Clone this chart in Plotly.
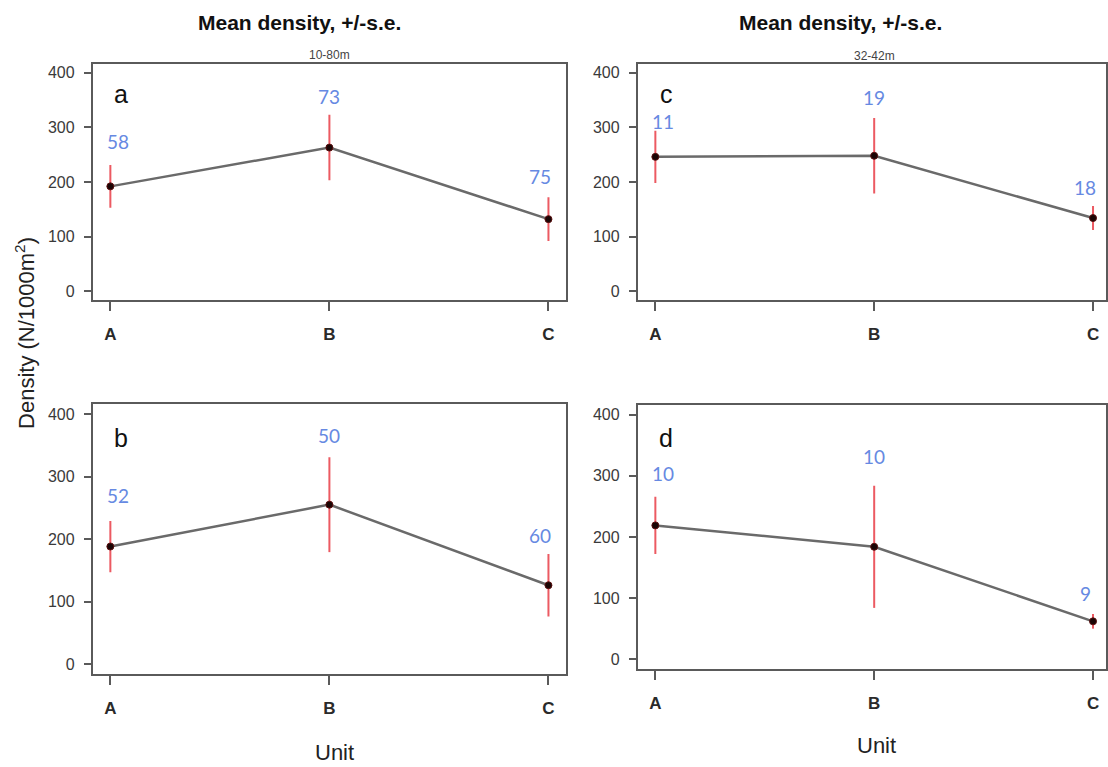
import plotly.graph_objects as go

units = ["A", "B", "C"]
unit_pos = [1, 2, 3]

# panel a: 10-80m, top-left
mean_a = [192, 263, 132]
se_a = [39, 60, 40]
n_a = [58, 73, 75]
# panel b: bottom-left
mean_b = [188, 255, 126]
se_b = [41, 76, 50]
n_b = [52, 50, 60]
# panel c: 32-42m, top-right
mean_c = [246, 248, 134]
se_c = [48, 69, 22]
n_c = [11, 19, 18]
# panel d: bottom-right
mean_d = [219, 184, 62]
se_d = [47, 100, 12]
n_d = [10, 10, 9]

y_ticks = [0, 100, 200, 300, 400]

W, H = 1108, 767
LINE = "#6a6a6a"
RED = "#ec5a62"
BLUE = "#6689e2"
NARROW = "Liberation Sans Narrow, Arial Narrow, Liberation Sans, Arial"
TICKFONT = dict(family=NARROW, size=16, color="#3a3a3a")

fig = go.Figure()

# (letter, data..., axes, label pixel offsets above the error bar)
panels = [
    ("a", mean_a, se_a, n_a, "x", "y", [24, 18, 21]),
    ("c", mean_c, se_c, n_c, "x2", "y2", [9, 21, 19]),
    ("b", mean_b, se_b, n_b, "x3", "y3", [25, 22, 19]),
    ("d", mean_d, se_d, n_d, "x4", "y4", [23, 29, 21]),
]

annotations = []
for letter, mean, se, n, xa, ya, yshifts in panels:
    fig.add_trace(go.Scatter(
        x=unit_pos, y=mean, xaxis=xa, yaxis=ya, mode="lines+markers",
        line=dict(color=LINE, width=2.5),
        marker=dict(color="#1a0505", size=7, line=dict(color="#5a1010", width=1)),
        error_y=dict(type="data", array=se, symmetric=True, color=RED, thickness=2, width=0),
        showlegend=False, hoverinfo="skip",
    ))
    xshifts = [8, 0, -8]
    for xi, m, s, cnt, sh, ys in zip(unit_pos, mean, se, n, xshifts, yshifts):
        annotations.append(dict(
            x=xi, y=m + s, xref=xa, yref=ya, text=str(cnt), showarrow=False,
            xshift=sh, yshift=ys, yanchor="middle",
            font=dict(family="Lato, Noto Sans, sans-serif", size=19, color=BLUE),
        ))
    annotations.append(dict(
        x=1.05, y=362, xref=xa, yref=ya, text=letter, showarrow=False,
        xanchor="center", yanchor="middle",
        font=dict(family="Liberation Sans, Arial", size=25, color="#111111"),
    ))

def px_x(p):
    return p / W

def px_y(p):
    return 1 - p / H

xcommon = dict(
    tickvals=unit_pos, ticktext=["<b>%s</b>" % u for u in units], showline=True, mirror=True,
    linecolor="#5a5a5a", linewidth=2, ticks="outside", ticklen=9, tickwidth=1.5,
    tickcolor="#5a5a5a", showgrid=False, zeroline=False,
    tickfont=dict(family=NARROW, size=17, color="#2a2a2a"),
    ticklabelstandoff=9,
)
ycommon = dict(
    tickvals=y_ticks, range=[-16, 416], showline=True, mirror=True,
    linecolor="#5a5a5a", linewidth=2, ticks="outside", ticklen=7, tickwidth=1.5,
    tickcolor="#5a5a5a", showgrid=False, zeroline=False, tickfont=TICKFONT,
    ticklabelstandoff=6,
)

left_dom = [px_x(93), px_x(567)]
right_dom = [px_x(639), 1.0]
right_rng = [0.92, 3.0 + 13 / 219.2]

fig.update_layout(
    width=W, height=H, margin=dict(l=0, r=0, t=0, b=0),
    paper_bgcolor="white", plot_bgcolor="white",
    xaxis=dict(domain=left_dom, range=[0.92, 3.08], anchor="y", **xcommon),
    yaxis=dict(domain=[px_y(300), px_y(64)], anchor="x", **ycommon),
    xaxis2=dict(domain=right_dom, range=right_rng, anchor="y2", **xcommon),
    yaxis2=dict(domain=[px_y(300), px_y(64)], anchor="x2", **ycommon),
    xaxis3=dict(domain=left_dom, range=[0.92, 3.08], anchor="y3", **xcommon),
    yaxis3=dict(domain=[px_y(674), px_y(404)], anchor="x3", **ycommon),
    xaxis4=dict(domain=right_dom, range=right_rng, anchor="y4", **xcommon),
    yaxis4=dict(domain=[px_y(669), px_y(405)], anchor="x4", **ycommon),
)

title_font = dict(family="Liberation Sans, Arial", size=21, color="#111111")
sub_font = dict(family=NARROW, size=12, color="#444444")
axis_title_font = dict(family="Liberation Sans, Arial", size=22, color="#222222")

annotations += [
    dict(x=px_x(300), y=px_y(23), xref="paper", yref="paper", text="<b>Mean density, +/-s.e.</b>",
         showarrow=False, font=title_font, xanchor="center", yanchor="middle"),
    dict(x=px_x(842), y=px_y(23), xref="paper", yref="paper", text="<b>Mean density, +/-s.e.</b>",
         showarrow=False, font=title_font, xanchor="center", yanchor="middle"),
    dict(x=px_x(330), y=px_y(55), xref="paper", yref="paper", text="10-80m",
         showarrow=False, font=sub_font, xanchor="center", yanchor="middle"),
    dict(x=px_x(876), y=px_y(56), xref="paper", yref="paper", text="32-42m",
         showarrow=False, font=sub_font, xanchor="center", yanchor="middle"),
    dict(x=px_x(25), y=px_y(333), xref="paper", yref="paper", text="Density (N/1000m<sup>2</sup>)",
         showarrow=False, font=axis_title_font, textangle=-90, xanchor="center", yanchor="middle"),
    dict(x=px_x(335), y=px_y(752), xref="paper", yref="paper", text="Unit",
         showarrow=False, font=axis_title_font, xanchor="center", yanchor="middle"),
    dict(x=px_x(878), y=px_y(745), xref="paper", yref="paper", text="Unit",
         showarrow=False, font=axis_title_font, xanchor="center", yanchor="middle"),
]

fig.update_layout(annotations=annotations)
fig.write_html("out.html")
